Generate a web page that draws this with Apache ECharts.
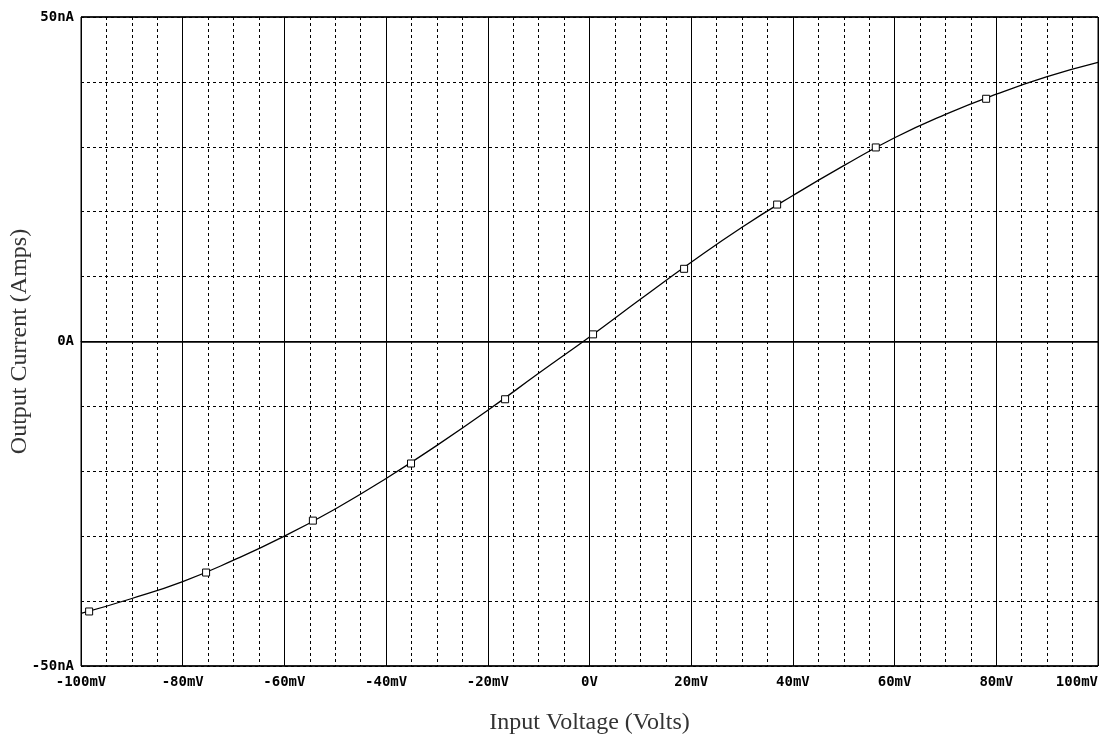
<!DOCTYPE html>
<html>
<head>
<meta charset="utf-8">
<script src="https://cdn.jsdelivr.net/npm/echarts@6/dist/echarts.min.js"></script>
<style>html,body{margin:0;padding:0;background:#fff;}#c{width:1107px;height:740px;}</style>
</head>
<body>
<div id="c"></div>
<script>
// Curve (mV -> nA)
const curveX = [-100,-90,-80,-70,-60,-50,-40,-30,-20,-10,0,10,20,30,40,50,60,70,80,90,100];
const curveY = [-41.9,-39.6,-37.0,-33.7,-30.0,-25.8,-21.1,-16.0,-10.6,-4.9,0.7,6.5,12.2,17.6,22.5,27.1,31.4,35.0,38.1,40.8,43.0];
// Square markers
const markX = [-98.4,-75.4,-54.4,-35.1,-16.6,0.7,18.6,36.9,56.3,78.0];
const markY = [-41.6,-35.6,-27.6,-18.8,-8.9,1.1,11.2,21.1,29.9,37.4];
// Tick labels
const yLabels = {'50':'50nA','0':'0A','-50':'-50nA'};
const xLabel = v => v === 0 ? '0V' : v + 'mV';

const chart = echarts.init(document.getElementById('c'));
const tickFont = {fontFamily:'DejaVu Sans Mono', fontWeight:'bold', fontSize:14, color:'#000'};
chart.setOption({
  animation:false,
  backgroundColor:'#fff',
  grid:{left:81,right:9,top:17,bottom:74,outerBoundsMode:'none',containLabel:false,show:true,borderColor:'#000',borderWidth:1,backgroundColor:'transparent'},
  xAxis:{
    type:'value',min:-100,max:100,interval:20,
    name:'Input Voltage (Volts)',nameLocation:'middle',nameGap:45,nameMoveOverlap:false,
    nameTextStyle:{fontFamily:'Liberation Serif',fontSize:24,color:'#333'},
    axisLine:{show:true,lineStyle:{color:'#000',width:1}},
    axisTick:{show:true,length:5,lineStyle:{color:'#000'}},
    axisLabel:Object.assign({margin:9,formatter:xLabel,alignMaxLabel:'right'},tickFont),
    splitLine:{show:true,lineStyle:{color:'#000',width:1,type:'solid'}},
    minorTick:{show:false,splitNumber:4},
    minorSplitLine:{show:true,lineStyle:{color:'#000',width:1,type:[3,3]}}
  },
  yAxis:[{
    type:'value',min:-50,max:50,interval:50,
    name:'Output Current (Amps)',nameLocation:'middle',nameGap:49,nameMoveOverlap:false,
    nameTextStyle:{fontFamily:'Liberation Serif',fontSize:24,color:'#333'},
    axisLine:{show:true,lineStyle:{color:'#000',width:1}},
    axisTick:{show:true,length:5,lineStyle:{color:'#000'}},
    axisLabel:Object.assign({margin:7,formatter:v=>yLabels[String(v)]||''},tickFont),
    splitLine:{show:true,lineStyle:{color:'#000',width:1.6,type:'solid'}}
  },{
    type:'value',min:-50,max:50,interval:10,position:'left',
    axisLine:{show:false},axisTick:{show:false},axisLabel:{show:false},
    splitLine:{show:true,lineStyle:{color:'#000',width:1,type:[3,3]}}
  }],
  series:[{
    type:'line',yAxisIndex:0,smooth:true,showSymbol:false,
    data:curveX.map((x,i)=>[x,curveY[i]]),
    lineStyle:{color:'#000',width:1.3},z:5
  },{
    type:'scatter',yAxisIndex:0,symbol:'rect',symbolSize:7,
    data:markX.map((x,i)=>[x,markY[i]]),
    itemStyle:{color:'#fff',borderColor:'#000',borderWidth:1,opacity:1},z:6
  }]
});
</script>
</body>
</html>
